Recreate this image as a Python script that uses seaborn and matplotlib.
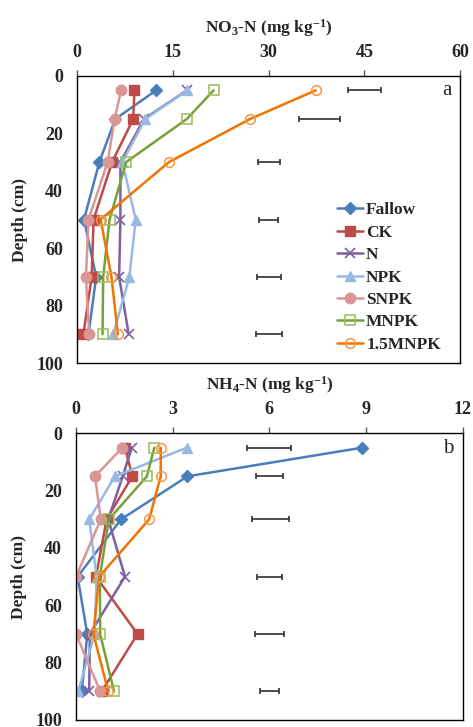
import matplotlib
matplotlib.use('Agg')
import matplotlib.pyplot as plt
import seaborn as sns

sns.set_style('white')
plt.rcParams['font.family'] = ['Liberation Serif', 'DejaVu Serif']
plt.rcParams['font.weight'] = 'bold'
plt.rcParams['mathtext.fontset'] = 'custom'
plt.rcParams['mathtext.rm'] = 'Liberation Serif:bold'
plt.rcParams['mathtext.it'] = 'Liberation Serif:bold'
plt.rcParams['mathtext.bf'] = 'Liberation Serif:bold'

# soil depth of each sample (cm)
depth = [5, 15, 30, 50, 70, 90]
treatments = ['Fallow', 'CK', 'N', 'NPK', 'SNPK', 'MNPK', '1.5MNPK']

# NO3-N (mg/kg)
no3_fallow = [12.4, 6.0, 3.5, 1.1, 3.0, 1.8]
no3_ck = [9.0, 8.8, 5.5, 2.6, 2.3, 1.0]
no3_n = [17.2, 10.5, 6.8, 6.8, 6.6, 8.1]
no3_npk = [17.3, 10.7, 7.1, 9.2, 8.2, 5.7]
no3_snpk = [6.9, 5.9, 4.8, 1.8, 1.4, 1.9]
no3_mnpk = [21.4, 17.2, 7.7, 5.1, 4.1, 4.0]
no3_15mnpk = [37.4, 27.1, 14.4, 3.7, 5.4, 6.4]

# NH4-N (mg/kg)
nh4_fallow = [8.89, 3.46, 1.40, 0.05, 0.35, 0.18]
nh4_ck = [1.52, 1.75, 0.95, 0.62, 1.91, 0.80]
nh4_n = [1.73, 1.45, 1.00, 1.52, 0.43, 0.41]
nh4_npk = [3.44, 1.21, 0.41, 0.64, 0.58, 0.07]
nh4_snpk = [1.44, 0.59, 0.77, 0.00, 0.00, 0.75]
nh4_mnpk = [2.43, 2.20, 1.02, 0.74, 0.75, 1.18]
nh4_15mnpk = [2.63, 2.63, 2.27, 0.72, 0.54, 1.00]

# LSD bars drawn to the right of the profiles
no3_bar_x = [45.05, 38.0, 30.05, 30.0, 30.1, 30.1]
no3_bar_half = [2.55, 3.2, 1.75, 1.5, 1.85, 2.0]
nh4_bar_x = [6.0, 6.0, 6.03, 6.0, 6.0, 6.0]
nh4_bar_half = [0.68, 0.41, 0.57, 0.39, 0.46, 0.29]

no3_data = [no3_fallow, no3_ck, no3_n, no3_npk, no3_snpk, no3_mnpk, no3_15mnpk]
nh4_data = [nh4_fallow, nh4_ck, nh4_n, nh4_npk, nh4_snpk, nh4_mnpk, nh4_15mnpk]

styles = {
    'Fallow': dict(color='#4A7EBB', marker='D', ms=6.5, mfc='#4A7EBB', mec='#4A7EBB', mew=1),
    'CK': dict(color='#BE4B48', marker='s', ms=6.5, mfc='#BE4B48', mec='#BE4B48', mew=1),
    'N': dict(color='#7D60A0', marker='x', ms=7, mfc='#7D60A0', mec='#7D60A0', mew=1.2),
    'NPK': dict(color='#98B9E3', marker='^', ms=7.5, mfc='#98B9E3', mec='#98B9E3', mew=1),
    'SNPK': dict(color='#D99694', marker='o', ms=7.5, mfc='#D99694', mec='#D99694', mew=1),
    'MNPK': dict(color='#77A03A', marker='s', ms=7, mfc='none', mec='#9BBB59', mew=1.1),
    '1.5MNPK': dict(color='#F07400', marker='o', ms=7, mfc='none', mec='#F79646', mew=1.1),
}


def draw_panel(ax, data, bar_x, bar_half, xmax, xticks, xlabel, letter):
    for name, vals in zip(treatments, data):
        sns.lineplot(x=vals, y=depth, orient='y', sort=False, ax=ax, label=name,
                     lw=1.8, **styles[name])
    ax.errorbar(bar_x, depth, xerr=bar_half, fmt='none', ecolor='#303030',
                elinewidth=1.2, capsize=2.5, capthick=1.2)
    ax.set_xlim(0, xmax)
    ax.set_ylim(100, 0)
    ax.set_xticks(xticks)
    ax.set_yticks(range(0, 101, 20))
    ax.xaxis.tick_top()
    ax.xaxis.set_label_position('top')
    ax.set_xlabel(xlabel, fontsize=12.5, fontweight='bold', labelpad=8)
    ax.set_ylabel('Depth (cm)', fontsize=12.5, fontweight='bold', labelpad=6)
    ax.tick_params(axis='both', direction='out', length=4, width=1, labelsize=13, pad=6,
                   color='#555555')
    ax.tick_params(axis='x', pad=7)
    for s in ax.spines.values():
        s.set_color('black')
        s.set_linewidth(1)
    ax.text(0.977, 0.948, letter, transform=ax.transAxes, ha='right', va='center',
            fontsize=15, fontweight='normal')


fig = plt.figure(figsize=(4.73, 7.27), dpi=100)
ax1 = fig.add_axes([77 / 473, 1 - 363 / 727, 383 / 473, 287 / 727])
ax2 = fig.add_axes([76 / 473, 1 - 720 / 727, 386.7 / 473, 286.7 / 727])

draw_panel(ax1, no3_data, no3_bar_x, no3_bar_half, 60, [0, 15, 30, 45, 60],
           r'NO$_3$-N (mg kg$^{-1}$)', 'a')
draw_panel(ax2, nh4_data, nh4_bar_x, nh4_bar_half, 12, [0, 3, 6, 9, 12],
           r'NH$_4$-N (mg kg$^{-1}$)', 'b')

if ax2.get_legend() is not None:
    ax2.get_legend().remove()
ax1.legend(loc='upper left', bbox_to_anchor=(0.678, 0.56), frameon=False,
           fontsize=12.5, handlelength=1.5, handletextpad=0.2, labelspacing=0.36,
           borderpad=0, borderaxespad=0, numpoints=1)

fig.savefig('out.png', dpi=100)
